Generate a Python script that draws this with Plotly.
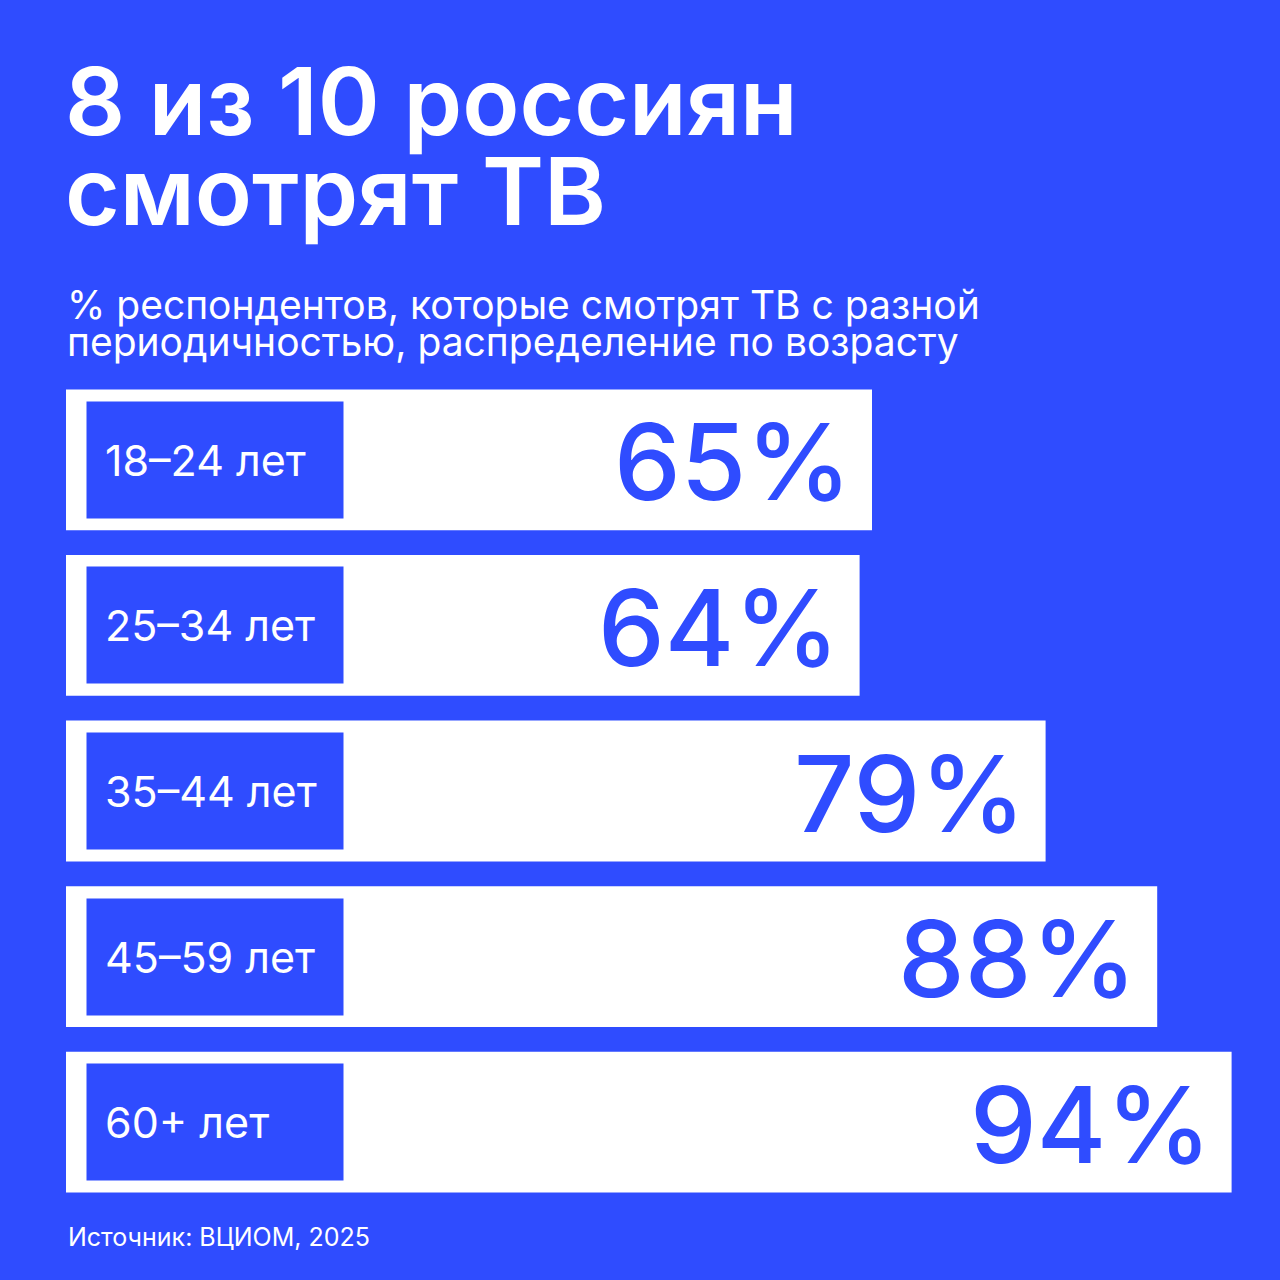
import plotly.graph_objects as go

categories = ["18–24 лет", "25–34 лет", "35–44 лет", "45–59 лет", "60+ лет"]
values = [65, 64, 79, 88, 94]
value_labels = ["65%", "64%", "79%", "88%", "94%"]

title_lines = ["8 из 10 россиян", "смотрят ТВ"]
subtitle_lines = ["% респондентов, которые смотрят ТВ с разной",
                  "периодичностью, распределение по возрасту"]
source = "Источник: ВЦИОМ, 2025"

BLUE = "#2F4CFF"
WHITE = "#FFFFFF"
FONT = "Inter"

W, H = 1280, 1280
M_L, M_R, M_T, M_B = 66, 0, 377, 75
PLOT_H = H - M_T - M_B


def py(pixel_y):
    """pixel y (from top) -> paper y"""
    return (H - M_B - pixel_y) / PLOT_H


fig = go.Figure()
fig.add_trace(go.Bar(
    y=categories, x=values, orientation="h",
    marker=dict(color=WHITE, line=dict(width=0)),
    width=0.85, hoverinfo="skip", showlegend=False,
))

annotations = []
for cat, val, lab in zip(categories, values, value_labels):
    annotations.append(dict(
        x=0, y=cat, xref="x", yref="y", xanchor="left", yanchor="middle",
        xshift=20, text=cat, showarrow=False, align="left", valign="middle",
        width=220, height=80, borderpad=18, bgcolor=BLUE,
        font=dict(family=FONT, size=43, color=WHITE),
    ))
    annotations.append(dict(
        x=val, y=cat, xref="x", yref="y", xanchor="right", yanchor="middle",
        xshift=-18, yshift=-2, text=lab, showarrow=False,
        font=dict(family=FONT, size=106, color=BLUE, weight=500),
    ))

for i, line in enumerate(title_lines):
    annotations.append(dict(
        x=0, y=py(101 + 90 * i), xref="paper", yref="paper",
        xanchor="left", yanchor="middle", xshift=-3, text=line, showarrow=False,
        font=dict(family=FONT, size=94, color=WHITE, weight=600),
    ))
for i, line in enumerate(subtitle_lines):
    annotations.append(dict(
        x=0, y=py(304 + 37 * i), xref="paper", yref="paper",
        xanchor="left", yanchor="middle", xshift=-1, text=line, showarrow=False,
        font=dict(family=FONT, size=39, color=WHITE),
    ))
annotations.append(dict(
    x=0, y=py(1237), xref="paper", yref="paper",
    xanchor="left", yanchor="middle", text=source, showarrow=False,
    font=dict(family=FONT, size=25, color=WHITE),
))

fig.update_layout(
    width=W, height=H,
    margin=dict(l=M_L, r=M_R, t=M_T, b=M_B, pad=0),
    paper_bgcolor=BLUE, plot_bgcolor=BLUE,
    xaxis=dict(range=[0, (W - M_L - M_R) / 12.4], visible=False, fixedrange=True),
    yaxis=dict(autorange="reversed", visible=False, fixedrange=True),
    annotations=annotations,
    bargap=0.15,
)

fig.write_html(
    "out.html",
    config={"displayModeBar": False},
    post_script="document.body.style.margin='0';document.body.style.overflow='hidden';",
)
